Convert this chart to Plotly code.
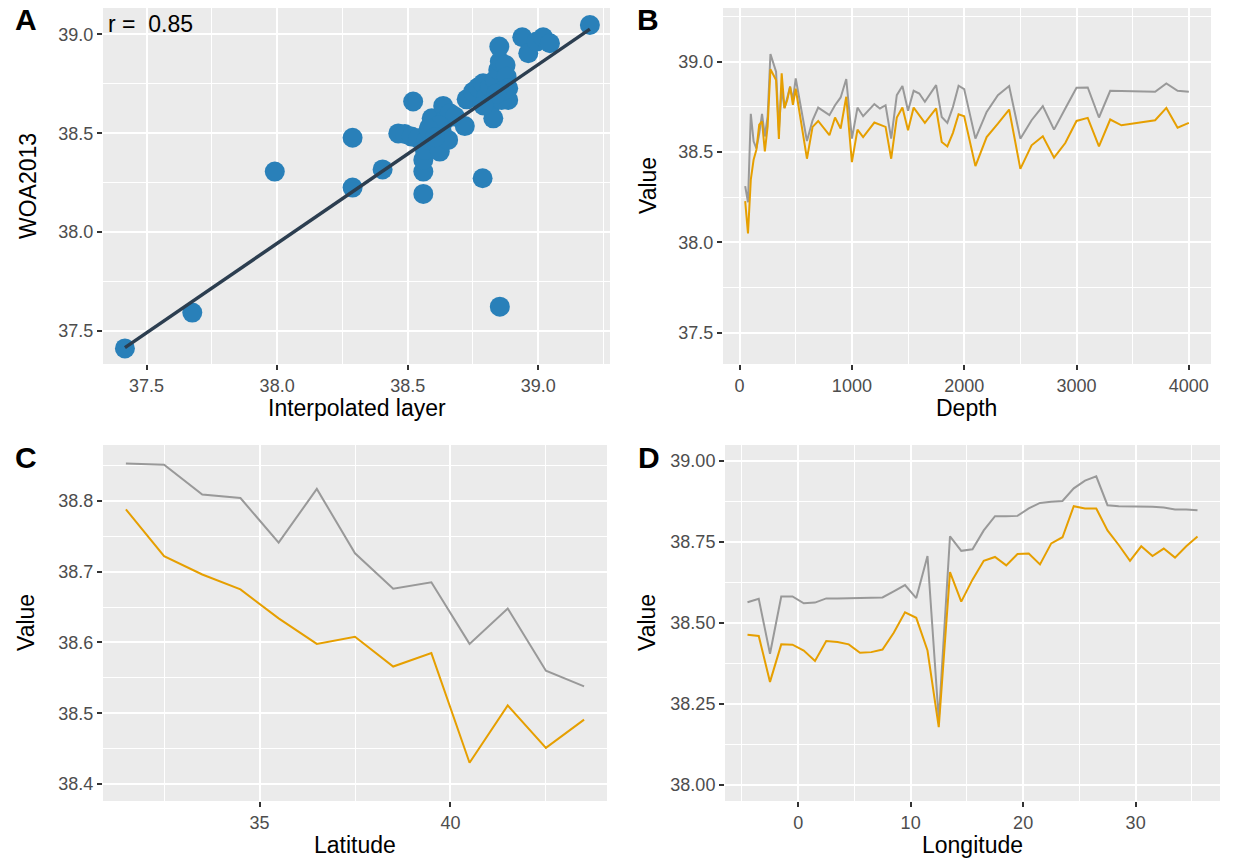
import numpy as np
import plotly.graph_objects as go

# ---------------- data ----------------
# Panel A: scatter (Interpolated layer vs WOA2013)
interp_x = [37.417, 37.675, 37.991, 38.289, 38.289, 38.404, 38.521, 38.560, 38.560, 38.787,
            38.853, 39.198,
            38.464, 38.489, 38.515, 38.540, 38.560, 38.566, 38.572, 38.585, 38.592, 38.611,
            38.623, 38.630, 38.636, 38.643, 38.655, 38.662, 38.681, 38.719, 38.598, 38.620,
            38.580, 38.605,
            38.726, 38.751, 38.770, 38.789, 38.802, 38.815, 38.828, 38.815, 38.834, 38.847,
            38.853, 38.851, 38.875, 38.879, 38.885, 38.885, 38.860, 38.866, 38.840, 38.790,
            38.939, 38.962, 38.994, 39.019, 39.045]
woa_y = [37.412, 37.593, 38.306, 38.477, 38.225, 38.317, 38.660, 38.193, 38.306, 38.272,
         37.623, 39.047,
         38.499, 38.496, 38.483, 38.474, 38.365, 38.415, 38.466, 38.533, 38.575, 38.449,
         38.407, 38.512, 38.638, 38.567, 38.466, 38.601, 38.584, 38.536, 38.499, 38.540,
         38.520, 38.480,
         38.671, 38.710, 38.732, 38.752, 38.685, 38.634, 38.575, 38.735, 38.769, 38.820,
         38.862, 38.938, 38.845, 38.786, 38.727, 38.668, 38.668, 38.715, 38.700, 38.640,
         38.985, 38.904, 38.963, 38.985, 38.955]
# linear fit as shown in the reference (slope / intercept)
fit_slope = 0.904
fit_intercept = 3.591
r_label = "r = \u00a00.85"

# Panel B: profiles vs depth
depth = [50, 75, 100, 125, 150, 175, 200, 225, 250, 275, 325, 350, 375, 400, 425, 450, 475, 500,
         600, 650, 700, 800, 850, 900, 950, 1000, 1050, 1100, 1200, 1250, 1300, 1350, 1400, 1450,
         1500, 1550, 1600, 1650, 1750, 1800, 1850, 1900, 1950, 2000, 2100, 2200, 2300, 2400, 2500,
         2600, 2700, 2800, 2900, 3000, 3100, 3200, 3300, 3400, 3700, 3800, 3900, 4000]
depth_grey = [38.311, 38.222, 38.711, 38.559, 38.520, 38.600, 38.711, 38.586, 38.697, 39.042,
              38.945, 38.620, 38.850, 38.743, 38.800, 38.862, 38.790, 38.907,
              38.561, 38.676, 38.746, 38.704, 38.759, 38.802, 38.904, 38.574, 38.746, 38.698,
              38.765, 38.741, 38.759, 38.574, 38.815, 38.865, 38.728, 38.839, 38.824, 38.778,
              38.870, 38.694, 38.661, 38.750, 38.867, 38.848, 38.574, 38.722, 38.815, 38.865,
              38.574, 38.676, 38.754, 38.624, 38.741, 38.856, 38.857, 38.691, 38.839, 38.837,
              38.833, 38.880, 38.839, 38.833]
depth_orange = [38.228, 38.050, 38.347, 38.458, 38.513, 38.651, 38.669, 38.504, 38.642, 38.958,
                38.899, 38.572, 38.936, 38.743, 38.789, 38.862, 38.761, 38.850,
                38.463, 38.639, 38.672, 38.593, 38.691, 38.630, 38.806, 38.444, 38.624, 38.583,
                38.663, 38.652, 38.639, 38.463, 38.691, 38.746, 38.620, 38.746, 38.704, 38.661,
                38.741, 38.556, 38.531, 38.606, 38.709, 38.698, 38.422, 38.583, 38.657, 38.735,
                38.407, 38.537, 38.587, 38.469, 38.550, 38.672, 38.689, 38.531, 38.680, 38.648,
                38.676, 38.744, 38.635, 38.661]

# Panel C: vs latitude
latitude = [31.5, 32.5, 33.5, 34.5, 35.5, 36.5, 37.5, 38.5, 39.5, 40.5, 41.5, 42.5, 43.5]
lat_grey = [38.853, 38.851, 38.809, 38.804, 38.741, 38.817, 38.726, 38.676, 38.685, 38.598,
            38.648, 38.560, 38.538]
lat_orange = [38.788, 38.722, 38.696, 38.675, 38.634, 38.598, 38.608, 38.566, 38.585, 38.430,
              38.511, 38.451, 38.491]

# Panel D: vs longitude
longitude = [-4.5, -3.5, -2.5, -1.5, -0.5, 0.5, 1.5, 2.5, 3.5, 4.5, 5.5, 6.5, 7.5, 8.5, 9.5,
             10.5, 11.5, 12.5, 13.5, 14.5, 15.5, 16.5, 17.5, 18.5, 19.5, 20.5, 21.5, 22.5, 23.5,
             24.5, 25.5, 26.5, 27.5, 28.5, 29.5, 30.5, 31.5, 32.5, 33.5, 34.5, 35.5]
lon_grey = [38.564, 38.575, 38.405, 38.582, 38.582, 38.561, 38.563, 38.576, 38.576, 38.577,
            38.579, 38.579, 38.579, 38.598, 38.617, 38.577, 38.707, 38.201, 38.768, 38.723,
            38.728, 38.786, 38.830, 38.830, 38.831, 38.854, 38.871, 38.875, 38.877, 38.916,
            38.940, 38.953, 38.864, 38.861, 38.861, 38.861, 38.859, 38.857, 38.851, 38.851,
            38.848]
lon_orange = [38.464, 38.460, 38.318, 38.434, 38.433, 38.415, 38.383, 38.444, 38.441, 38.434,
              38.408, 38.410, 38.418, 38.470, 38.533, 38.516, 38.415, 38.178, 38.657, 38.566,
              38.634, 38.692, 38.704, 38.678, 38.713, 38.715, 38.681, 38.746, 38.765, 38.861,
              38.854, 38.854, 38.786, 38.741, 38.692, 38.737, 38.707, 38.730, 38.702, 38.737,
              38.767]

# ---------------- styling ----------------
W, H = 1240, 862
FONT = "Liberation Sans, Arial, Helvetica, sans-serif"
GREY = "#999999"
ORANGE = "#E69F00"
BLUE = "#2980B9"
FITC = "#2C3E50"
PANEL_BG = "#EBEBEB"


def px_x(p):
    return p / W


def px_y(p):
    return 1 - p / H


def axis(domain_px, rng, tickvals, fmt, minor_dtick, minor_tick0, horizontal, anchor):
    if horizontal:
        dom = [px_x(domain_px[0]), px_x(domain_px[1])]
    else:
        dom = [px_y(domain_px[1]), px_y(domain_px[0])]
    return dict(
        domain=dom, range=rng, anchor=anchor, tickmode="array", tickvals=tickvals,
        tickformat=fmt, showgrid=True, gridcolor="white", gridwidth=2, zeroline=False,
        showline=False, ticks="outside", ticklen=5, tickwidth=1.5, tickcolor="#333333",
        tickfont=dict(size=18, color="#4D4D4D", family=FONT),
        minor=dict(showgrid=True, gridcolor="white", gridwidth=1, dtick=minor_dtick,
                   tick0=minor_tick0, ticks=""),
        fixedrange=True,
    )


fig = go.Figure()

# Panel A
fx = np.array([min(interp_x), max(interp_x)])
fig.add_trace(go.Scatter(x=interp_x, y=woa_y, mode="markers", xaxis="x", yaxis="y",
                         marker=dict(size=20, color=BLUE, line=dict(width=0)), showlegend=False))
fig.add_trace(go.Scatter(x=fx, y=fit_slope * fx + fit_intercept, mode="lines", xaxis="x", yaxis="y",
                         line=dict(color=FITC, width=3.5), showlegend=False))

# Panel B
fig.add_trace(go.Scatter(x=depth, y=depth_grey, mode="lines", xaxis="x2", yaxis="y2",
                         line=dict(color=GREY, width=2), name="WOA2013", showlegend=False))
fig.add_trace(go.Scatter(x=depth, y=depth_orange, mode="lines", xaxis="x2", yaxis="y2",
                         line=dict(color=ORANGE, width=2), name="Interpolated layer", showlegend=False))
# Panel C
fig.add_trace(go.Scatter(x=latitude, y=lat_grey, mode="lines", xaxis="x3", yaxis="y3",
                         line=dict(color=GREY, width=2), name="WOA2013", showlegend=False))
fig.add_trace(go.Scatter(x=latitude, y=lat_orange, mode="lines", xaxis="x3", yaxis="y3",
                         line=dict(color=ORANGE, width=2), name="Interpolated layer", showlegend=False))
# Panel D
fig.add_trace(go.Scatter(x=longitude, y=lon_grey, mode="lines", xaxis="x4", yaxis="y4",
                         line=dict(color=GREY, width=2), name="WOA2013", showlegend=False))
fig.add_trace(go.Scatter(x=longitude, y=lon_orange, mode="lines", xaxis="x4", yaxis="y4",
                         line=dict(color=ORANGE, width=2), name="Interpolated layer", showlegend=False))

# panel pixel boxes [left, right], [top, bottom]
A_X, A_Y = (103, 610), (8, 364)
B_X, B_Y = (723, 1211), (8, 364)
C_X, C_Y = (103, 607), (445, 801)
D_X, D_Y = (725, 1220), (445, 801)

layout = dict(
    width=W, height=H, margin=dict(l=0, r=0, t=0, b=0),
    paper_bgcolor="white", plot_bgcolor=PANEL_BG,
    font=dict(family=FONT, color="black"),
    showlegend=False,
    xaxis=axis(A_X, [37.333, 39.275], [37.5, 38.0, 38.5, 39.0], ".1f", 0.25, 37.25, True, "y"),
    yaxis=axis(A_Y, [37.333, 39.133], [37.5, 38.0, 38.5, 39.0], ".1f", 0.25, 37.25, False, "x"),
    xaxis2=axis(B_X, [-147.5, 4197.5], [0, 1000, 2000, 3000, 4000], "d", 500, 0, True, "y2"),
    yaxis2=axis(B_Y, [37.327, 39.297], [37.5, 38.0, 38.5, 39.0], ".1f", 0.25, 37.25, False, "x2"),
    xaxis3=axis(C_X, [30.9, 44.1], [35, 40], "d", 2.5, 30, True, "y3"),
    yaxis3=axis(C_Y, [38.376, 38.879], [38.4, 38.5, 38.6, 38.7, 38.8], ".1f", 0.05, 38.35, False, "x3"),
    xaxis4=axis(D_X, [-6.5, 37.5], [0, 10, 20, 30], "d", 5, -5, True, "y4"),
    yaxis4=axis(D_Y, [37.95, 39.05], [38.0, 38.25, 38.5, 38.75, 39.0], ".2f", 0.125, 37.875, False, "x4"),
)

ann = []


def title(text, x, y, angle=0, size=23):
    ann.append(dict(text=text, x=px_x(x), y=px_y(y), xref="paper", yref="paper",
                    xanchor="center", yanchor="middle", showarrow=False, textangle=angle,
                    font=dict(size=size, color="black", family=FONT)))


def label(text, x, y):
    ann.append(dict(text="<b>" + text + "</b>", x=px_x(x), y=px_y(y), xref="paper", yref="paper",
                    xanchor="center", yanchor="middle", showarrow=False,
                    font=dict(size=30, color="black", family=FONT)))


title("Interpolated layer", sum(A_X) / 2, 408)
title("WOA2013", 28, sum(A_Y) / 2, -90)
title("Depth", sum(B_X) / 2, 408)
title("Value", 648, sum(B_Y) / 2, -90)
title("Latitude", sum(C_X) / 2, 845)
title("Value", 26, sum(C_Y) / 2, -90)
title("Longitude", sum(D_X) / 2, 845)
title("Value", 647, sum(D_Y) / 2, -90)
label("A", 26, 19)
label("B", 648, 19)
label("C", 26, 457)
label("D", 649, 457)

ann.append(dict(text=r_label, x=37.343, y=39.05, xref="x", yref="y", xanchor="left",
                yanchor="middle", showarrow=False, font=dict(size=23, color="black", family=FONT)))

layout["annotations"] = ann
fig.update_layout(**layout)
fig.write_html("out.html")
